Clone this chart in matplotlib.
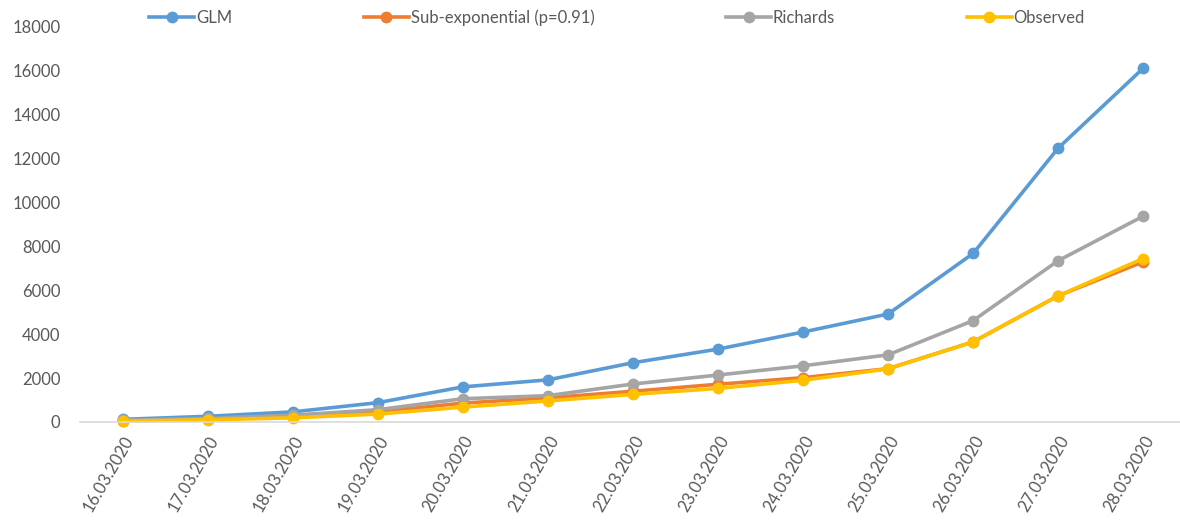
import numpy as np
import matplotlib.pyplot as plt

dates = ["16.03.2020", "17.03.2020", "18.03.2020", "19.03.2020", "20.03.2020",
         "21.03.2020", "22.03.2020", "23.03.2020", "24.03.2020", "25.03.2020",
         "26.03.2020", "27.03.2020", "28.03.2020"]

glm = [120, 260, 460, 880, 1600, 1920, 2700, 3320, 4100, 4920, 7680, 12480, 16120]
subexp = [50, 120, 240, 460, 860, 1100, 1400, 1720, 2020, 2430, 3650, 5750, 7300]
richards = [80, 160, 310, 560, 1060, 1200, 1730, 2140, 2560, 3060, 4620, 7350, 9380]
observed = [40, 100, 190, 360, 680, 960, 1260, 1530, 1900, 2420, 3650, 5750, 7450]

plt.rcParams['font.family'] = ['Lato', 'DejaVu Sans']

fig = plt.figure(figsize=[11.8, 5.2], dpi=100)
ax = fig.add_axes([80/1180, 98/520, 1 - 80/1180, 395/520])

x = np.arange(len(dates))
series = [("GLM", glm, "#5B9BD5"),
          ("Sub-exponential (p=0.91)", subexp, "#ED7D31"),
          ("Richards", richards, "#A5A5A5"),
          ("Observed", observed, "#FFC000")]
for name, vals, col in series:
    ax.plot(x, vals, color=col, lw=2.6, marker="o", ms=7.5, label=name, clip_on=False)

ax.set_xlim(-0.5, (1180 - 122) / 85.1)
ax.set_ylim(0, 18000)
ax.set_yticks(np.arange(0, 18001, 2000))
ax.set_xticks(x)
ax.set_xticklabels(dates, rotation=60, ha="right", rotation_mode="anchor")
ax.tick_params(axis="both", length=0, labelsize=12, colors="#595959")
ax.tick_params(axis="x", pad=8)
ax.tick_params(axis="y", pad=14)

for s in ["top", "right", "left"]:
    ax.spines[s].set_visible(False)
ax.spines["bottom"].set_color("#D9D9D9")
ax.spines["bottom"].set_linewidth(1.2)

leg = ax.legend(loc="center", bbox_to_anchor=(0.5 - 13/1100, 1.0 + (27 - 18) / 395), ncol=4,
                frameon=False, fontsize=12, handlelength=2.7, handletextpad=0.1,
                columnspacing=7.9)
for t in leg.get_texts():
    t.set_color("#595959")

plt.savefig("out.png", dpi=100)
plt.close()
